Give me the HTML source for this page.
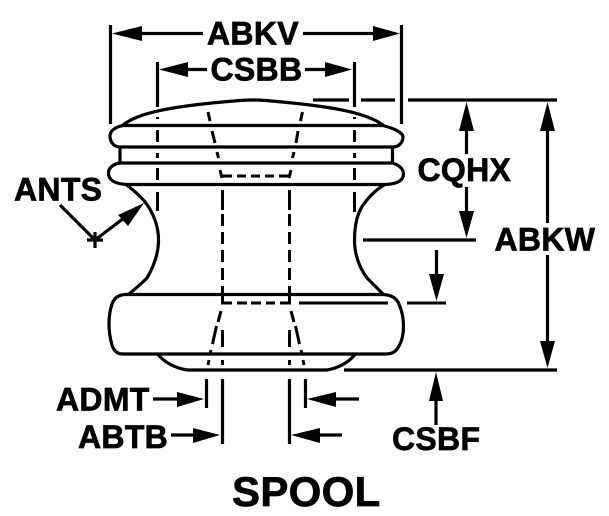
<!DOCTYPE html>
<html><head><meta charset="utf-8"><style>
html,body{margin:0;padding:0;background:#fff;width:609px;height:516px;overflow:hidden}
svg{display:block}
text{font-family:"Liberation Sans",Arial,sans-serif;font-weight:bold;font-size:32px;letter-spacing:.3px;fill:#000;stroke:#000;stroke-width:.7}
.l{fill:none;stroke:#000;stroke-width:3.2}
.t{fill:none;stroke:#000;stroke-width:3.2}
.d{fill:none;stroke:#000;stroke-width:3}
</style></head><body>
<svg width="609" height="516" viewBox="0 0 609 516" xmlns="http://www.w3.org/2000/svg">
<!-- outline -->
<path class="l" d="M123 125.500 H383 C396 129 403 133 403 137 C403 142 399 147 393 147 H120 C114 147 110 142 110 136 C110 131 115 127 123 125.500Z"/>
<path class="l" d="M120 147 V163 M392.500 147 V163"/>
<path class="l" d="M120 163 H392.500 C399 165 403.500 169 403.500 174 C403.500 180 398 184 385 184.500 H128 C114 184 108.500 180 108.500 173 C108.500 168 113 164 120 163Z"/>
<path class="l" d="M123 125 C138 113 170 106 240 100.500 Q253 99.500 266 100.500 C330 106 365 112 383 125"/>
<path class="l" d="M126 184.500 C136 192 144 200 148 206 C155 217 158.500 228 158.500 240 C158.500 254 154 266 147 278 C141 284 135 289 128 295"/>
<path class="l" d="M385 184.500 C375 190 368 198 363 205 C357 214 354.500 226 354.500 240 C354.500 254 359 267 367 278 C373 284 378 289 383 294"/>
<path class="l" d="M125 294.500 H383 C392 295 397 299 399 304 C402 311 403.500 318 403.500 326 C403.500 334 402 341 399 346 C396 352 392 354 385 354 H123 C117 354 114 351 112 345 C110 338 109 332 109 324 C109 316 110 310 112 304 C114 298 118 295 125 294.500Z"/>
<path class="l" d="M158 354.500 C166 364 176 368 187 370 H327 C338 368 348 363 355 354.500"/>
<!-- hidden -->
<path class="d" d="M157.500 130V142M157.500 153V158M157.500 168V180M157.500 192V211M157.500 117V119M354.500 117V119M354.500 130V142M354.500 153V158M354.500 168V180M354.500 192V212"/>
<path class="d" d="M208 112L210 121M212 131L215 143M217 152L218.500 158M220 170L222 178M302.500 112L300.500 121M298 131L296 143M294 152L292.500 158M291 170L289 178"/>
<path class="d" d="M222 176H232M237 176H246M251 176H260M265 176H274M279 176H290"/>
<path class="d" d="M222.500 190V210M222.500 214V226M222.500 232V244M222.500 250V262M222.500 268V280M222.500 286V303M289.500 190V210M289.500 214V226M289.500 232V244M289.500 250V262M289.500 268V280M289.500 286V303"/>
<path class="d" d="M221 303H232M237 303H247M251 303H261M266 303H275M280 303H291M299 303H388M407 303H446"/>
<path class="d" d="M221 311L218 322M216.500 326L212.500 344M211 350L210 354M209 360L208 365M291 311L294 322M295.500 326L299.500 344M301 350L302 354M303 360L304 365"/>
<path class="d" d="M222.500 330V347M222.500 360V365M289.500 330V347M289.500 360V365"/>
<!-- extension lines -->
<path class="t" d="M110.500 25V124M401.500 25V124M157.500 62V107M354.500 62V107"/>
<path class="t" d="M313 100H349M361 100H395M408 100H557M344 370H557M363 240H476"/>
<path class="t" d="M206.500 379V408M305.500 379V408M222.500 379V444M289.500 379V444"/>
<!-- dim shafts -->
<path class="t" d="M135 33.500H203M303 33.500H378M182 69.500H207M305 69.500H330"/>
<path class="t" d="M466.500 125V154M466.500 187V215M547.500 125V223M547.500 255V345M436.500 250V278M436 398V425"/>
<path class="t" d="M153 399H182M331 399H359M171 435H198M315 435H342"/>
<path class="t" d="M60 205L95 240M87 240H103M95 232V248M95 240L124 218"/>
<!-- arrowheads -->
<path d="M112 33.500L142 26V41Z M400 33.500L373 26V41Z M159 69.500L188 62V77Z M352 69.500L325 62V77Z"/>
<path d="M466.500 102L459 131H474Z M466.500 238L459 211H474Z M547.500 102L540 131H555Z M547.500 368L540 341H555Z M436.500 301L429 274H444Z M436 372L429 401H443Z"/>
<path d="M204 399L177 392V407Z M307 399L336 392V407Z M220 435L193 428V443Z M291 435L320 428V443Z"/>
<path d="M144 203L118 215L128 226Z"/>
<!-- labels -->
<text x="207" y="44.500">ABKV</text>
<text x="210.500" y="80.500">CSBB</text>
<text x="417.500" y="181">CQHX</text>
<text x="494.500" y="250.500">ABKW</text>
<text x="14" y="200.500">ANTS</text>
<text x="56" y="410.500">ADMT</text>
<text x="78" y="448">ABTB</text>
<text x="392" y="450">CSBF</text>
<text x="232" y="506" style="font-size:42px">SPOOL</text>
</svg>
</body></html>
